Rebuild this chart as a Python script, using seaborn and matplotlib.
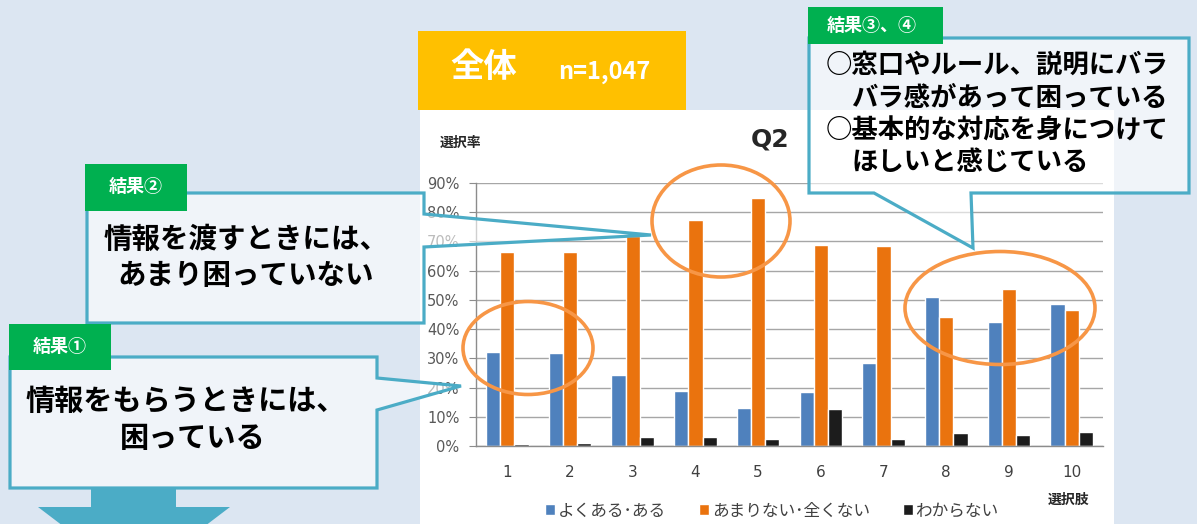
import matplotlib
matplotlib.use("Agg")
import matplotlib.pyplot as plt
import pandas as pd
import seaborn as sns
from matplotlib.patches import Ellipse, Polygon, Rectangle

sns.set_style("white")
plt.rcParams["font.family"] = ["Noto Sans CJK JP", "DejaVu Sans"]

# Q2 の選択率 (%)
choices = ["1", "2", "3", "4", "5", "6", "7", "8", "9", "10"]
answers = ["よくある･ある", "あまりない･全くない", "わからない"]
often = [32.2, 31.8, 24.3, 18.8, 13.0, 18.4, 28.5, 50.9, 42.6, 48.5]
rarely = [66.5, 66.5, 71.8, 77.4, 84.9, 68.7, 68.3, 44.1, 53.6, 46.5]
unknown = [0.7, 1.1, 3.2, 3.2, 2.3, 12.7, 2.3, 4.4, 3.8, 4.7]
y_ticks = [0, 10, 20, 30, 40, 50, 60, 70, 80, 90]
colors = ["#4f81bd", "#ea730e", "#1c1c1c"]

df = pd.DataFrame({
    "choice": choices * 3,
    "answer": [answers[0]] * 10 + [answers[1]] * 10 + [answers[2]] * 10,
    "rate": often + rarely + unknown,
})

W, H = 1197, 524
fig = plt.figure(figsize=(W / 100, H / 100), dpi=100, facecolor="#dce6f2")

# background layer (white chart panel, yellow header)
bg = fig.add_axes([0, 0, 1, 1], zorder=0)
bg.set_xlim(0, W)
bg.set_ylim(H, 0)
bg.axis("off")
bg.add_patch(Rectangle((420, 110), 694, 420, fc="white", ec="none"))
bg.add_patch(Rectangle((418, 31), 268, 79, fc="#ffc000", ec="none"))
bg.text(484, 68, "全体", color="white", fontsize=24, fontweight="bold",
        ha="center", va="center")
bg.text(604, 72, "n=1,047", color="white", fontsize=17, fontweight="bold",
        ha="center", va="center")

# bar chart
ax = fig.add_axes([476 / W, (H - 446) / H, 627 / W, 263 / H], zorder=1)
sns.barplot(data=df, x="choice", y="rate", hue="answer", order=choices,
            hue_order=answers, palette=colors, width=0.68, saturation=1,
            errorbar=None, ax=ax)
ax.set_xlim(-0.5, 9.5)
ax.set_ylim(0, 90)
ax.set_yticks(y_ticks)
ax.set_yticklabels([f"{t}%" for t in y_ticks], family="DejaVu Sans")
ax.set_xticks(range(len(choices)))
ax.set_xticklabels(choices, family="DejaVu Sans")
ax.tick_params(axis="y", length=5, color="#8c8c8c", pad=7, labelsize=10.5,
               labelcolor="#595959", left=True)
ax.tick_params(axis="x", length=0, pad=14, labelsize=11, labelcolor="#404040")
ax.set_xlabel("")
ax.set_ylabel("")
ax.yaxis.grid(True, color="#a6a6a6", linewidth=1)
ax.set_axisbelow(True)
for side in ["top", "right"]:
    ax.spines[side].set_visible(False)
for side in ["left", "bottom"]:
    ax.spines[side].set_color("#8c8c8c")
    ax.spines[side].set_linewidth(1)

handles, labels = ax.get_legend_handles_labels()
ax.get_legend().remove()
fig.legend(handles, labels, loc="center", bbox_to_anchor=(772 / W, 1 - 511 / H),
           ncol=3, frameon=False, fontsize=12, handlelength=0.6,
           handleheight=0.6, handletextpad=0.15, columnspacing=2.0,
           labelcolor="#404040")

# overlay layer: callouts, circles, labels
ov = fig.add_axes([0, 0, 1, 1], zorder=2)
ov.set_xlim(0, W)
ov.set_ylim(H, 0)
ov.axis("off")
ov.patch.set_alpha(0)

ov.text(460, 143, "選択率", fontsize=10, fontweight="bold", ha="center", va="center")
ov.text(1068, 500, "選択肢", fontsize=10, fontweight="bold", ha="center", va="center")
ov.text(770, 140, "Q2", fontsize=18, fontweight="bold", ha="center", va="center",
        family="DejaVu Sans")

edge = "#4bacc6"
fill = (1, 1, 1, 0.6)
green = "#00b050"


def callout(points, tab, tab_text):
    ov.add_patch(Polygon(points, closed=True, fc=fill, ec=edge, lw=2.3,
                         joinstyle="miter"))
    x, y, w, h = tab
    ov.add_patch(Rectangle((x, y), w, h, fc=green, ec="none"))
    ov.text(x + w / 2, y + h / 2 - 1, tab_text, color="white", fontsize=13,
            fontweight="bold", ha="center", va="center")


# 結果②
callout([(87, 193), (424, 193), (424, 214), (651, 235), (424, 247),
         (424, 323), (87, 323)], (85, 164, 102, 47), "結果②")
ov.text(104, 240, "情報を渡すときには、", fontsize=20.5, fontweight="bold",
        ha="left", va="center", color="black")
ov.text(117, 276, "あまり困っていない", fontsize=20.5, fontweight="bold",
        ha="left", va="center", color="black")

# 結果①
callout([(10, 357), (377, 357), (377, 378), (461, 386), (377, 410),
         (377, 488), (10, 488)], (9, 324, 102, 46), "結果①")
ov.text(186, 401, "情報をもらうときには、", fontsize=21, fontweight="bold",
        ha="center", va="center", color="black")
ov.text(193, 438, "困っている", fontsize=21, fontweight="bold",
        ha="center", va="center", color="black")

# down arrow
ov.add_patch(Polygon([(91, 488), (176, 488), (176, 507), (230, 507),
                      (134, 580), (38, 507), (91, 507)], closed=True,
                     fc=edge, ec="none"))

# 結果③、④
callout([(809, 38), (1189, 38), (1189, 193), (971, 193), (973, 248),
         (874, 193), (809, 193)], (808, 7, 135, 37), "")
ov.text(827, 25, "結果③、④", color="white", fontsize=13, fontweight="bold",
        ha="left", va="center")
lines = [(826, 65, "○窓口やルール、説明にバラ"),
         (851, 98, "バラ感があって困っている"),
         (826, 131, "○基本的な対応を身につけて"),
         (851, 163, "ほしいと感じている")]
for x, y, s in lines:
    ov.text(x, y, s, fontsize=19, fontweight="bold", ha="left", va="center",
            color="black")

# orange circles
for (cx, cy), w, h in [((528, 348), 130, 93), ((721, 221), 138, 112),
                       ((1000, 308), 190, 113)]:
    ov.add_patch(Ellipse((cx, cy), w, h, fill=False, ec="#f79646", lw=2.6))

fig.savefig("out.png", dpi=100, facecolor=fig.get_facecolor())
